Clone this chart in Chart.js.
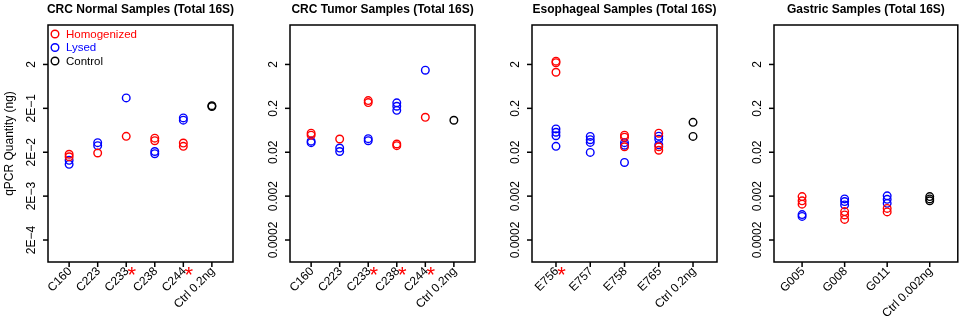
<!DOCTYPE html>
<html>
<head>
<meta charset="utf-8">
<title>qPCR Quantity (Total 16S)</title>
<script src="https://cdn.jsdelivr.net/npm/chart.js@4.4.1/dist/chart.umd.min.js"></script>
<style>
    html, body { margin: 0; padding: 0; background: #fff; }
    #wrap { position: relative; width: 963px; height: 321px; overflow: hidden; background: #fff; }
    #wrap canvas { position: absolute; top: 0; }
</style>
</head>
<body>
<div id="wrap">
    <canvas id="crcNormal" width="241" height="321" style="left:0px"></canvas>
    <canvas id="crcTumor" width="241" height="321" style="left:241px"></canvas>
    <canvas id="esophageal" width="241" height="321" style="left:482px"></canvas>
    <canvas id="gastric" width="240" height="321" style="left:723px"></canvas>
</div>
<script>
// ---- data (qPCR quantity, ng) ----
const yTickValues = [2, 0.2, 0.02, 0.002, 0.0002];
const yTickLabelsSci = ['2', '2E\u22121', '2E\u22122', '2E\u22123', '2E\u22124'];
const yTickLabelsDec = ['2', '0.2', '0.02', '0.002', '0.0002'];

// CRC normal
const normalCategories = ['C160', 'C223', 'C233', 'C238', 'C244', 'Ctrl 0.2ng'];
const normalStars = [false, false, true, false, true, false];
const normalHomogenized = [[0.018, 0.0158], [0.0192], [0.046], [0.0418, 0.0366], [0.0324, 0.0272], []];
const normalLysed = [[0.0131, 0.0106], [0.033, 0.0282], [0.346], [0.0208, 0.0185], [0.121, 0.1077], []];
const normalControl = [[], [], [], [], [], [0.23, 0.22]];

// CRC tumor
const tumorCategories = ['C160', 'C223', 'C233', 'C238', 'C244', 'Ctrl 0.2ng'];
const tumorStars = [false, false, true, true, true, false];
const tumorHomogenized = [[0.0543, 0.049], [0.04], [0.30, 0.27], [0.0308, 0.0282], [0.125], []];
const tumorLysed = [[0.0357, 0.033], [0.0249, 0.0208], [0.0407, 0.0366], [0.267, 0.223, 0.18], [1.48], []];
const tumorControl = [[], [], [], [], [], [0.107]];

// Esophageal
const esoCategories = ['E756', 'E757', 'E758', 'E765', 'Ctrl 0.2ng'];
const esoStars = [true, false, false, false, false];
const esoHomogenized = [[2.38, 2.19, 1.33], [], [0.049, 0.044, 0.0267], [0.0543, 0.0267, 0.0222], []];
const esoLysed = [[0.068, 0.057, 0.0476, 0.0272], [0.0459, 0.0386, 0.0335, 0.0198], [0.033, 0.0289, 0.0117], [0.0464, 0.0397, 0.0297], []];
const esoControl = [[], [], [], [], [0.096, 0.0459]];

// Gastric
const gastricCategories = ['G005', 'G008', 'G011', 'Ctrl 0.002ng'];
const gastricStars = [false, false, false, false];
const gastricHomogenized = [[0.00195, 0.00156, 0.00131], [0.000887, 0.000745, 0.000589], [0.00105, 0.000873], []];
const gastricLysed = [[0.00076, 0.00069], [0.00173, 0.0015, 0.00126], [0.00203, 0.00169, 0.00137], []];
const gastricControl = [[], [], [], [0.00195, 0.00173, 0.00156]];

const RED = '#ff0000';
const BLUE = '#0000ff';
const BLACK = '#000000';
const FONT = '"Liberation Sans", Arial, Helvetica, sans-serif';

// R-like axes, box, titles and legend drawn on top of the scatter
const rStylePlot = {
    id: 'rStylePlot',
    afterDraw(chart, args, opts) {
        const ctx = chart.ctx;
        const area = chart.chartArea;
        const xs = chart.scales.x;
        const ys = chart.scales.y;

        ctx.save();
        ctx.strokeStyle = BLACK;
        ctx.fillStyle = BLACK;
        ctx.lineWidth = 1.5;
        ctx.strokeRect(area.left, area.top, area.right - area.left, area.bottom - area.top);

        // y axis
        ctx.font = '12px ' + FONT;
        yTickValues.forEach((v, i) => {
            const y = ys.getPixelForValue(v);
            ctx.beginPath();
            ctx.moveTo(area.left - 5, y);
            ctx.lineTo(area.left, y);
            ctx.stroke();
            ctx.save();
            ctx.translate(area.left - 13.5, y);
            ctx.rotate(-Math.PI / 2);
            ctx.textAlign = 'center';
            ctx.textBaseline = 'alphabetic';
            ctx.fillText(opts.yLabels[i], 0, 0);
            ctx.restore();
        });

        // x axis
        opts.categories.forEach((c, i) => {
            const x = xs.getPixelForValue(i + 1);
            ctx.beginPath();
            ctx.moveTo(x, area.bottom);
            ctx.lineTo(x, area.bottom + 5);
            ctx.stroke();
            ctx.save();
            ctx.translate(x + 1, area.bottom + 7.5);
            ctx.rotate(-Math.PI / 4);
            ctx.textAlign = 'right';
            ctx.textBaseline = 'middle';
            ctx.fillStyle = BLACK;
            ctx.fillText(c, 0, 0);
            ctx.restore();
            if (opts.stars[i]) {
                ctx.save();
                ctx.font = '22px ' + FONT;
                ctx.fillStyle = RED;
                ctx.textAlign = 'center';
                ctx.textBaseline = 'alphabetic';
                ctx.fillText('*', x + 5.5, area.bottom + 19.5);
                ctx.restore();
            }
        });

        // title
        ctx.font = 'bold 12px ' + FONT;
        ctx.textAlign = 'center';
        ctx.textBaseline = 'alphabetic';
        ctx.fillText(opts.title, (area.left + area.right) / 2, 13);

        // y axis title
        if (opts.yTitle) {
            ctx.save();
            ctx.font = '12px ' + FONT;
            ctx.translate(13, (area.top + area.bottom) / 2);
            ctx.rotate(-Math.PI / 2);
            ctx.textAlign = 'center';
            ctx.fillText(opts.yTitle, 0, 0);
            ctx.restore();
        }

        // legend inside the top-left corner
        if (opts.legend) {
            ctx.font = '11.5px ' + FONT;
            ctx.textAlign = 'left';
            ctx.textBaseline = 'middle';
            ctx.lineWidth = 1.4;
            chart.data.datasets.forEach((ds, i) => {
                const ly = area.top + 9 + i * 13.5;
                ctx.strokeStyle = ds.borderColor;
                ctx.fillStyle = ds.borderColor;
                ctx.beginPath();
                ctx.arc(area.left + 7, ly, 3.8, 0, Math.PI * 2);
                ctx.stroke();
                ctx.fillText(ds.label, area.left + 18, ly + 0.5);
            });
        }
        ctx.restore();
    }
};

function toPoints(groups) {
    const pts = [];
    groups.forEach((vals, i) => {
        vals.forEach(v => pts.push({ x: i + 1, y: v }));
    });
    return pts;
}

function series(label, groups, color) {
    return {
        label: label,
        data: toPoints(groups),
        borderColor: color,
        backgroundColor: 'rgba(0,0,0,0)',
        pointRadius: 3.8,
        pointHoverRadius: 3.8,
        borderWidth: 1.4,
        pointStyle: 'circle'
    };
}

function makePanel(id, cfg) {
    const n = cfg.categories.length;
    const ext = 0.04 * n;
    return new Chart(document.getElementById(id), {
        type: 'scatter',
        data: {
            datasets: [
                series('Homogenized', cfg.homogenized, RED),
                series('Lysed', cfg.lysed, BLUE),
                series('Control', cfg.control, BLACK)
            ]
        },
        options: {
            responsive: false,
            animation: false,
            devicePixelRatio: 1,
            layout: { padding: cfg.padding },
            plugins: {
                legend: { display: false },
                tooltip: { enabled: false },
                rStylePlot: {
                    title: cfg.title,
                    categories: cfg.categories,
                    stars: cfg.stars,
                    yLabels: cfg.yLabels,
                    yTitle: cfg.yTitle,
                    legend: cfg.legend
                }
            },
            scales: {
                x: { type: 'linear', display: false, min: 0.5 - ext, max: n + 0.5 + ext },
                y: { type: 'logarithmic', display: false, min: Math.pow(10, -4.2), max: Math.pow(10, 1.2) }
            }
        },
        plugins: [rStylePlot]
    });
}

makePanel('crcNormal', {
    title: 'CRC Normal Samples (Total 16S)',
    categories: normalCategories, stars: normalStars,
    homogenized: normalHomogenized, lysed: normalLysed, control: normalControl,
    yLabels: yTickLabelsSci, yTitle: 'qPCR Quantity (ng)', legend: true,
    padding: { left: 48, right: 8, top: 25, bottom: 59 }
});
makePanel('crcTumor', {
    title: 'CRC Tumor Samples (Total 16S)',
    categories: tumorCategories, stars: tumorStars,
    homogenized: tumorHomogenized, lysed: tumorLysed, control: tumorControl,
    yLabels: yTickLabelsDec,
    padding: { left: 49, right: 7, top: 25, bottom: 59 }
});
makePanel('esophageal', {
    title: 'Esophageal Samples (Total 16S)',
    categories: esoCategories, stars: esoStars,
    homogenized: esoHomogenized, lysed: esoLysed, control: esoControl,
    yLabels: yTickLabelsDec,
    padding: { left: 50, right: 6, top: 25, bottom: 59 }
});
makePanel('gastric', {
    title: 'Gastric Samples (Total 16S)',
    categories: gastricCategories, stars: gastricStars,
    homogenized: gastricHomogenized, lysed: gastricLysed, control: gastricControl,
    yLabels: yTickLabelsDec,
    padding: { left: 51, right: 4, top: 25, bottom: 59 }
});
</script>
</body>
</html>
